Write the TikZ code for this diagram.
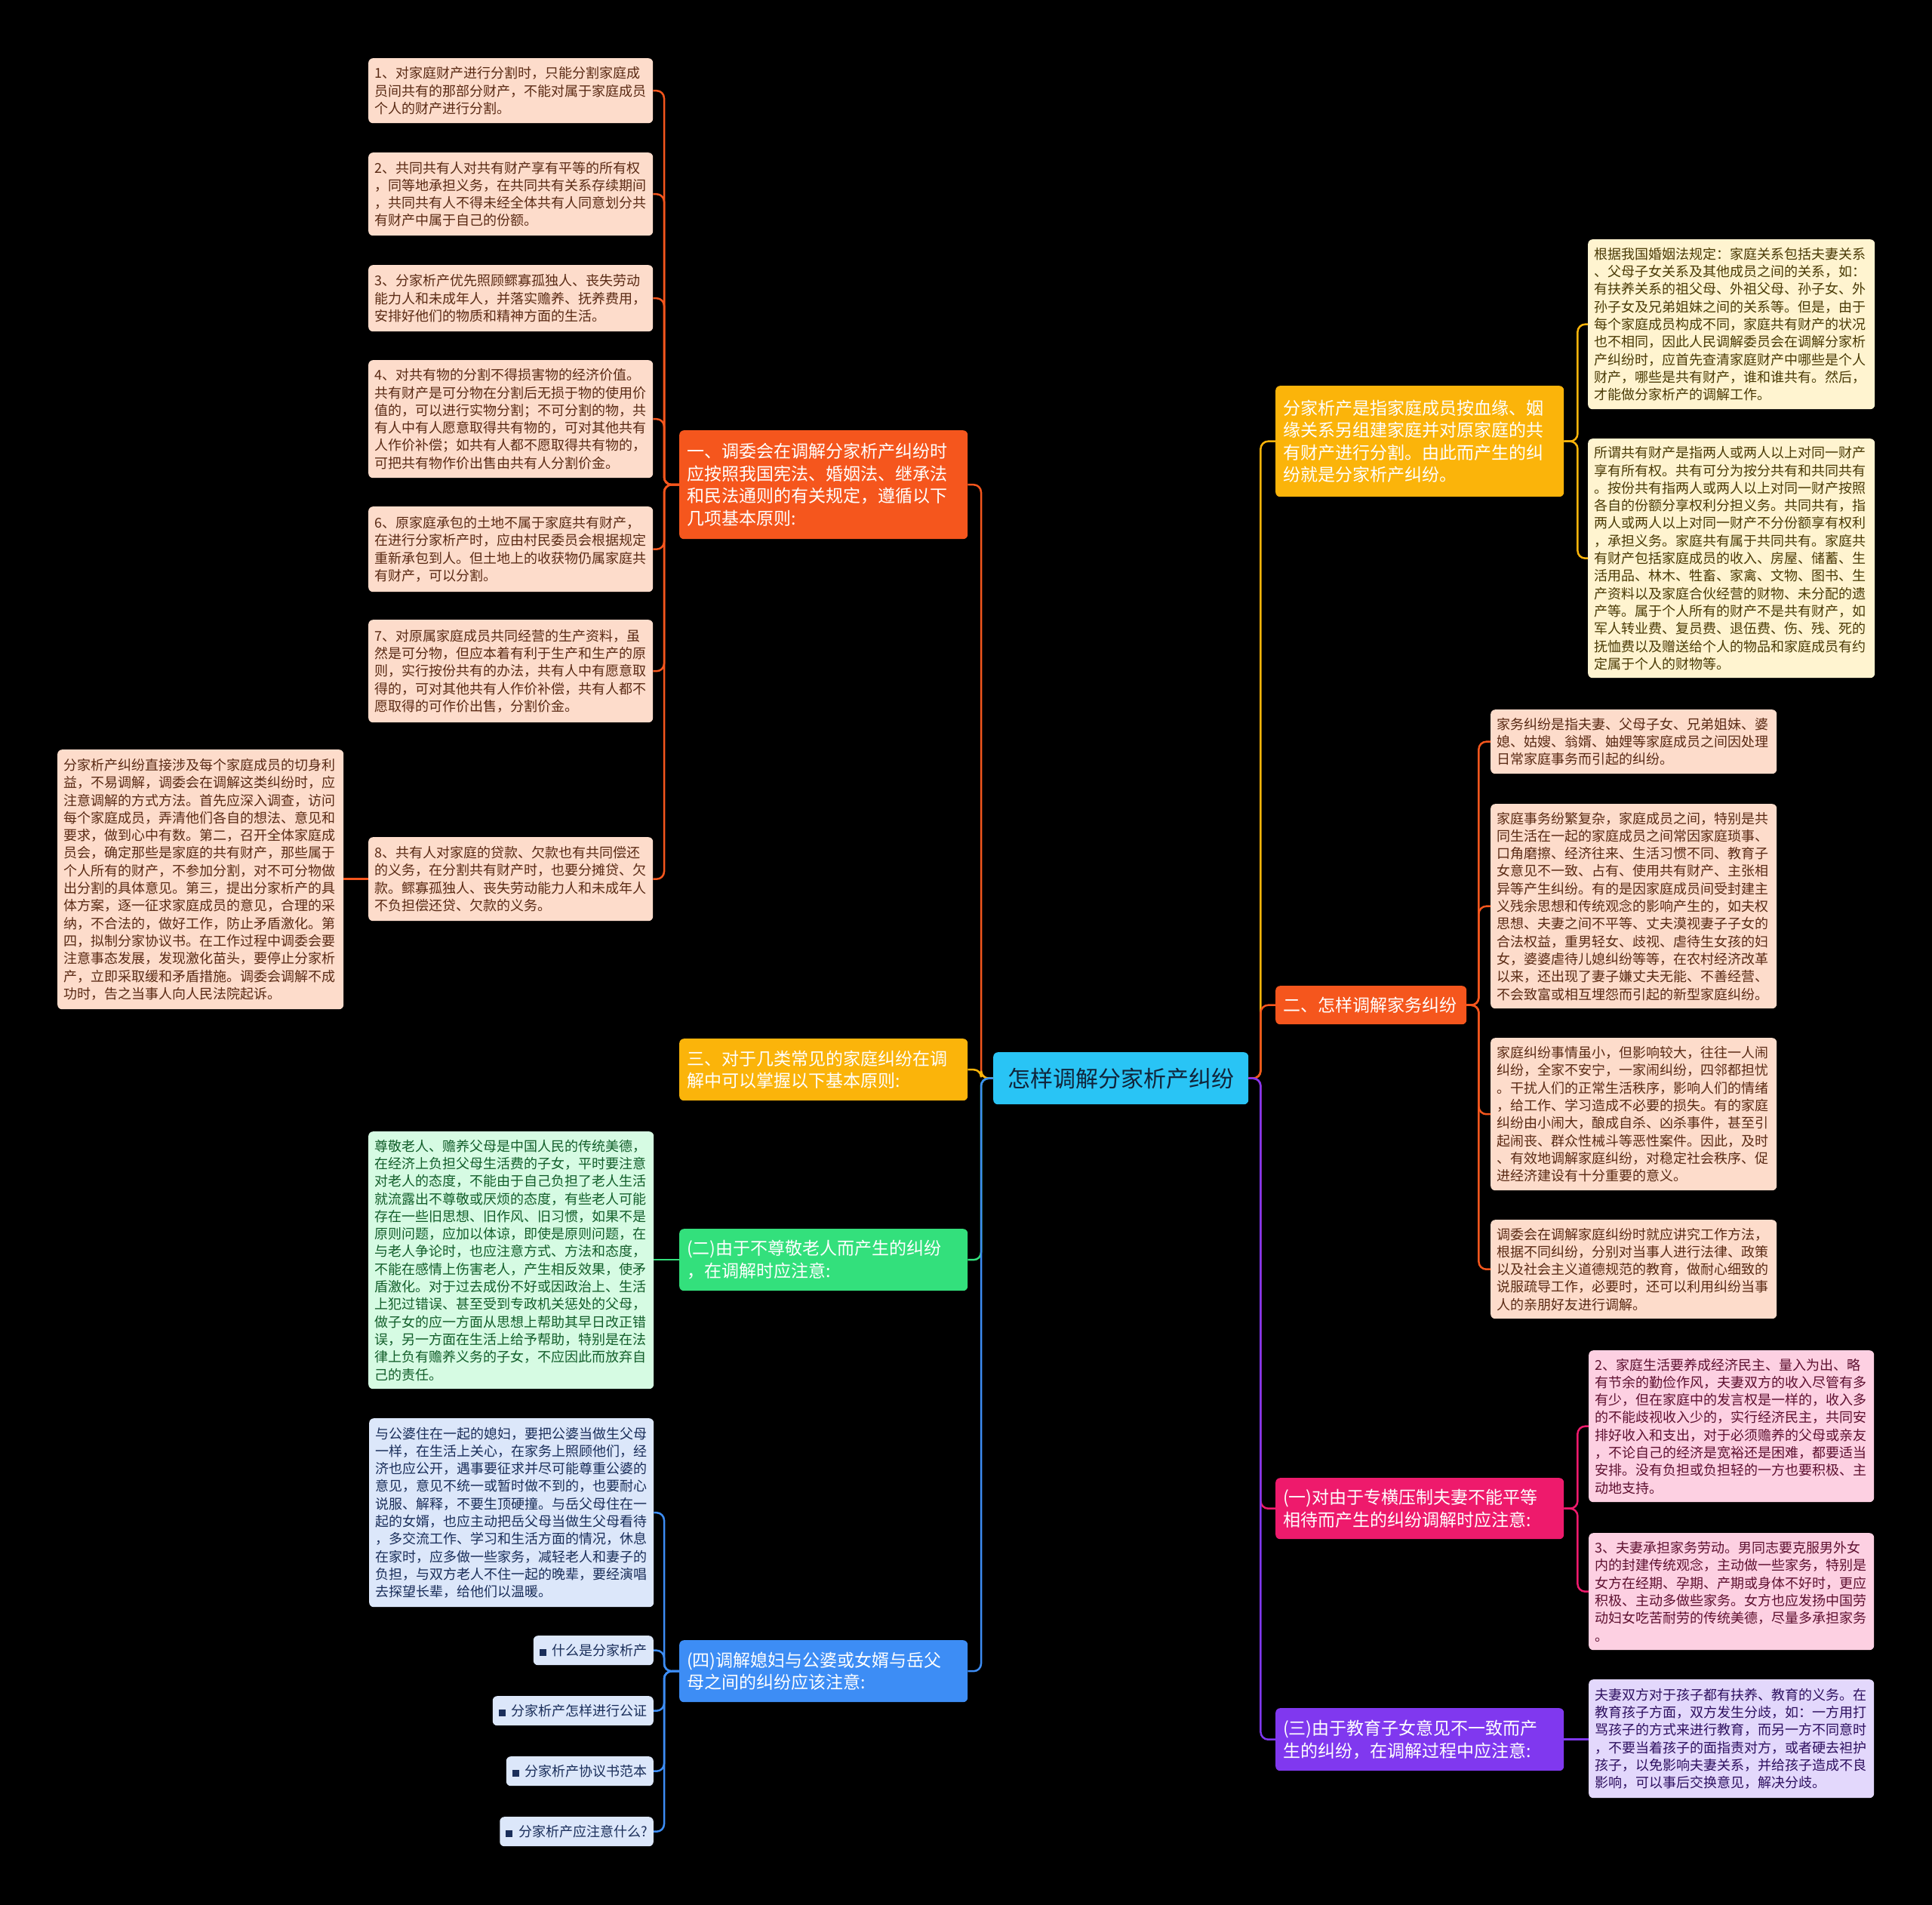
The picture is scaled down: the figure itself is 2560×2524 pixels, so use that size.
\documentclass[tikz,border=0pt]{standalone}
\usepackage{fontspec}
\setmainfont{Noto Sans CJK SC}
\definecolor{cOrange}{HTML}{F5561D}
\definecolor{cAmber}{HTML}{FBB40A}
\definecolor{cGreen}{HTML}{33E07C}
\definecolor{cBlue}{HTML}{3D8DF5}
\definecolor{cCyan}{HTML}{29C4F5}
\definecolor{cPink}{HTML}{EE1A6C}
\definecolor{cPurple}{HTML}{8038EF}
\definecolor{fPeach}{HTML}{FDDCCB}
\definecolor{tPeach}{HTML}{5A2A14}
\definecolor{fGreen}{HTML}{D6FBE3}
\definecolor{tGreen}{HTML}{125E2A}
\definecolor{fBlue}{HTML}{DCE7FA}
\definecolor{tBlue}{HTML}{1A2E5A}
\definecolor{fCream}{HTML}{FFF4D0}
\definecolor{tCream}{HTML}{4A3A05}
\definecolor{fPink}{HTML}{FDD0E2}
\definecolor{tPink}{HTML}{5E1030}
\definecolor{fPurple}{HTML}{E3D8FC}
\definecolor{tPurple}{HTML}{2E1060}
\definecolor{tCenter}{HTML}{10243A}
\tikzset{
  leafbox/.style={rectangle, rounded corners=6pt, anchor=north west, align=left,
    inner xsep=8pt, inner ysep=0pt, text width=361pt, font=\fontsize{18}{23.3}\selectfont},
  lpeach/.style={leafbox, fill=fPeach, text=tPeach},
  lgreen/.style={leafbox, fill=fGreen, text=tGreen},
  lblue/.style={leafbox, fill=fBlue, text=tBlue},
  lcream/.style={leafbox, fill=fCream, text=tCream},
  lpink/.style={leafbox, fill=fPink, text=tPink},
  lpurple/.style={leafbox, fill=fPurple, text=tPurple},
  linkbox/.style={rectangle, rounded corners=6pt, anchor=north east, inner xsep=8pt,
    inner ysep=0pt, minimum height=39pt, fill=fBlue, text=tBlue, font=\fontsize{18}{23.3}\selectfont},
  mainbox/.style={rectangle, rounded corners=6pt, anchor=north west, align=left,
    inner xsep=10pt, inner ysep=0pt, text width=362pt, text=white, font=\fontsize{23}{29.5}\selectfont},
  conn/.style={line width=2.5pt, rounded corners=10pt},
}
\newcommand{\bul}{{\color{tBlue}\rule{9pt}{9pt}}\hspace{8pt}}
\begin{document}
\begin{tikzpicture}[x=1pt,y=-1pt]
\fill[black] (0,0) rectangle (2560,2524);
\useasboundingbox (0,0) rectangle (2560,2524);

% central
\node[rectangle, rounded corners=6pt, anchor=north west, fill=cCyan, text=tCenter,
  minimum width=338pt, minimum height=69pt, inner sep=0pt, font=\fontsize{30}{36}\selectfont]
  (c) at (1316,1394) {怎样调解分家析产纠纷};

% left main nodes
\node[mainbox, fill=cOrange, minimum height=144pt] (m1) at (900,570)
 {一、调委会在调解分家析产纠纷时\\应按照我国宪法、婚姻法、继承法\\和民法通则的有关规定，遵循以下\\几项基本原则:};
\node[mainbox, fill=cAmber, minimum height=82pt] (m3) at (900,1376)
 {三、对于几类常见的家庭纠纷在调\\解中可以掌握以下基本原则:};
\node[mainbox, fill=cGreen, minimum height=82pt] (m2) at (900,1628)
 {(二)由于不尊敬老人而产生的纠纷\\，在调解时应注意:};
\node[mainbox, fill=cBlue, minimum height=82pt] (m4) at (900,2173)
 {(四)调解媳妇与公婆或女婿与岳父\\母之间的纠纷应该注意:};

% right main nodes
\node[mainbox, fill=cAmber, minimum height=147pt] (r1) at (1690,511)
 {分家析产是指家庭成员按血缘、姻\\缘关系另组建家庭并对原家庭的共\\有财产进行分割。由此而产生的纠\\纷就是分家析产纠纷。};
\node[mainbox, fill=cOrange, text width=233pt, minimum height=51pt] (r2) at (1690,1306)
 {二、怎样调解家务纠纷};
\node[mainbox, fill=cPink, minimum height=81pt] (r3) at (1690,1958)
 {(一)对由于专横压制夫妻不能平等\\相待而产生的纠纷调解时应注意:};
\node[mainbox, fill=cPurple, minimum height=83pt] (r4) at (1690,2263)
 {(三)由于教育子女意见不一致而产\\生的纠纷，在调解过程中应注意:};

% left leaves of m1
\node[lpeach, minimum height=86pt] (l1) at (488,77)
 {1、对家庭财产进行分割时，只能分割家庭成\\员间共有的那部分财产，不能对属于家庭成员\\个人的财产进行分割。};
\node[lpeach, minimum height=110pt] (l2) at (488,202)
 {2、共同共有人对共有财产享有平等的所有权\\，同等地承担义务，在共同共有关系存续期间\\，共同共有人不得未经全体共有人同意划分共\\有财产中属于自己的份额。};
\node[lpeach, minimum height=88pt] (l3) at (488,351)
 {3、分家析产优先照顾鳏寡孤独人、丧失劳动\\能力人和未成年人，并落实赡养、抚养费用，\\安排好他们的物质和精神方面的生活。};
\node[lpeach, minimum height=156pt] (l4) at (488,477)
 {4、对共有物的分割不得损害物的经济价值。\\共有财产是可分物在分割后无损于物的使用价\\值的，可以进行实物分割；不可分割的物，共\\有人中有人愿意取得共有物的，可对其他共有\\人作价补偿；如共有人都不愿取得共有物的，\\可把共有物作价出售由共有人分割价金。};
\node[lpeach, minimum height=113pt] (l6) at (488,671)
 {6、原家庭承包的土地不属于家庭共有财产，\\在进行分家析产时，应由村民委员会根据规定\\重新承包到人。但土地上的收获物仍属家庭共\\有财产，可以分割。};
\node[lpeach, minimum height=136pt] (l7) at (488,821)
 {7、对原属家庭成员共同经营的生产资料，虽\\然是可分物，但应本着有利于生产和生产的原\\则，实行按份共有的办法，共有人中有愿意取\\得的，可对其他共有人作价补偿，共有人都不\\愿取得的可作价出售，分割价金。};
\node[lpeach, minimum height=111pt] (l8) at (488,1109)
 {8、共有人对家庭的贷款、欠款也有共同偿还\\的义务，在分割共有财产时，也要分摊贷、欠\\款。鳏寡孤独人、丧失劳动能力人和未成年人\\不负担偿还贷、欠款的义务。};
\node[lpeach, text width=363pt, minimum height=344pt] (fl) at (76,993)
 {分家析产纠纷直接涉及每个家庭成员的切身利\\益，不易调解，调委会在调解这类纠纷时，应\\注意调解的方式方法。首先应深入调查，访问\\每个家庭成员，弄清他们各自的想法、意见和\\要求，做到心中有数。第二，召开全体家庭成\\员会，确定那些是家庭的共有财产，那些属于\\个人所有的财产，不参加分割，对不可分物做\\出分割的具体意见。第三，提出分家析产的具\\体方案，逐一征求家庭成员的意见，合理的采\\纳，不合法的，做好工作，防止矛盾激化。第\\四，拟制分家协议书。在工作过程中调委会要\\注意事态发展，发现激化苗头，要停止分家析\\产，立即采取缓和矛盾措施。调委会调解不成\\功时，告之当事人向人民法院起诉。};

% green leaf
\node[lgreen, text width=362pt, minimum height=341pt] (gl) at (488,1499)
 {尊敬老人、赡养父母是中国人民的传统美德，\\在经济上负担父母生活费的子女，平时要注意\\对老人的态度，不能由于自己负担了老人生活\\就流露出不尊敬或厌烦的态度，有些老人可能\\存在一些旧思想、旧作风、旧习惯，如果不是\\原则问题，应加以体谅，即使是原则问题，在\\与老人争论时，也应注意方式、方法和态度，\\不能在感情上伤害老人，产生相反效果，使矛\\盾激化。对于过去成份不好或因政治上、生活\\上犯过错误、甚至受到专政机关惩处的父母，\\做子女的应一方面从思想上帮助其早日改正错\\误，另一方面在生活上给予帮助，特别是在法\\律上负有赡养义务的子女，不应因此而放弃自\\己的责任。};

% blue leaves
\node[lblue, minimum height=250pt] (bl) at (489,1879)
 {与公婆住在一起的媳妇，要把公婆当做生父母\\一样，在生活上关心，在家务上照顾他们，经\\济也应公开，遇事要征求并尽可能尊重公婆的\\意见，意见不统一或暂时做不到的，也要耐心\\说服、解释，不要生顶硬撞。与岳父母住在一\\起的女婿，也应主动把岳父母当做生父母看待\\，多交流工作、学习和生活方面的情况，休息\\在家时，应多做一些家务，减轻老人和妻子的\\负担，与双方老人不住一起的晚辈，要经演唱\\去探望长辈，给他们以温暖。};
\node[linkbox] (k1) at (866,2167) {\bul 什么是分家析产};
\node[linkbox] (k2) at (866,2247) {\bul 分家析产怎样进行公证};
\node[linkbox] (k3) at (866,2327) {\bul 分家析产协议书范本};
\node[linkbox] (k4) at (866,2407) {\bul 分家析产应注意什么?};

% right leaves
\node[lcream, text width=364pt, minimum height=225pt] (t1) at (2104,317)
 {根据我国婚姻法规定：家庭关系包括夫妻关系\\、父母子女关系及其他成员之间的关系，如：\\有扶养关系的祖父母、外祖父母、孙子女、外\\孙子女及兄弟姐妹之间的关系等。但是，由于\\每个家庭成员构成不同，家庭共有财产的状况\\也不相同，因此人民调解委员会在调解分家析\\产纠纷时，应首先查清家庭财产中哪些是个人\\财产，哪些是共有财产，谁和谁共有。然后，\\才能做分家析产的调解工作。};
\node[lcream, text width=364pt, minimum height=317pt] (t2) at (2104,581)
 {所谓共有财产是指两人或两人以上对同一财产\\享有所有权。共有可分为按分共有和共同共有\\。按份共有指两人或两人以上对同一财产按照\\各自的份额分享权利分担义务。共同共有，指\\两人或两人以上对同一财产不分份额享有权利\\，承担义务。家庭共有属于共同共有。家庭共\\有财产包括家庭成员的收入、房屋、储蓄、生\\活用品、林木、牲畜、家禽、文物、图书、生\\产资料以及家庭合伙经营的财物、未分配的遗\\产等。属于个人所有的财产不是共有财产，如\\军人转业费、复员费、退伍费、伤、残、死的\\抚恤费以及赠送给个人的物品和家庭成员有约\\定属于个人的财物等。};

\node[lpeach, text width=363pt, minimum height=85pt] (s1) at (1975,940)
 {家务纠纷是指夫妻、父母子女、兄弟姐妹、婆\\媳、姑嫂、翁婿、妯娌等家庭成员之间因处理\\日常家庭事务而引起的纠纷。};
\node[lpeach, text width=363pt, minimum height=271pt] (s2) at (1975,1065)
 {家庭事务纷繁复杂，家庭成员之间，特别是共\\同生活在一起的家庭成员之间常因家庭琐事、\\口角磨擦、经济往来、生活习惯不同、教育子\\女意见不一致、占有、使用共有财产、主张相\\异等产生纠纷。有的是因家庭成员间受封建主\\义残余思想和传统观念的影响产生的，如夫权\\思想、夫妻之间不平等、丈夫漠视妻子子女的\\合法权益，重男轻女、歧视、虐待生女孩的妇\\女，婆婆虐待儿媳纠纷等等，在农村经济改革\\以来，还出现了妻子嫌丈夫无能、不善经营、\\不会致富或相互埋怨而引起的新型家庭纠纷。};
\node[lpeach, text width=363pt, minimum height=202pt] (s3) at (1975,1375)
 {家庭纠纷事情虽小，但影响较大，往往一人闹\\纠纷，全家不安宁，一家闹纠纷，四邻都担忧\\。干扰人们的正常生活秩序，影响人们的情绪\\，给工作、学习造成不必要的损失。有的家庭\\纠纷由小闹大，酿成自杀、凶杀事件，甚至引\\起闹丧、群众性械斗等恶性案件。因此，及时\\、有效地调解家庭纠纷，对稳定社会秩序、促\\进经济建设有十分重要的意义。};
\node[lpeach, text width=363pt, minimum height=131pt] (s4) at (1975,1616)
 {调委会在调解家庭纠纷时就应讲究工作方法，\\根据不同纠纷，分别对当事人进行法律、政策\\以及社会主义道德规范的教育，做耐心细致的\\说服疏导工作，必要时，还可以利用纠纷当事\\人的亲朋好友进行调解。};

\node[lpink, text width=362pt, minimum height=201pt] (p2) at (2105,1789)
 {2、家庭生活要养成经济民主、量入为出、略\\有节余的勤俭作风，夫妻双方的收入尽管有多\\有少，但在家庭中的发言权是一样的，收入多\\的不能歧视收入少的，实行经济民主，共同安\\排好收入和支出，对于必须赡养的父母或亲友\\，不论自己的经济是宽裕还是困难，都要适当\\安排。没有负担或负担轻的一方也要积极、主\\动地支持。};
\node[lpink, text width=362pt, minimum height=155pt] (p3) at (2105,2031)
 {3、夫妻承担家务劳动。男同志要克服男外女\\内的封建传统观念，主动做一些家务，特别是\\女方在经期、孕期、产期或身体不好时，更应\\积极、主动多做些家务。女方也应发扬中国劳\\动妇女吃苦耐劳的传统美德，尽量多承担家务\\。};
\node[lpurple, text width=362pt, minimum height=157pt] (pu) at (2105,2225)
 {夫妻双方对于孩子都有扶养、教育的义务。在\\教育孩子方面，双方发生分歧，如：一方用打\\骂孩子的方式来进行教育，而另一方不同意时\\，不要当着孩子的面指责对方，或者硬去袒护\\孩子，以免影响夫妻关系，并给孩子造成不良\\影响，可以事后交换意见，解决分歧。};

% connectors: center to main
\draw[conn, cOrange] (c.west) -- ++(-16,0) |- (m1.east);
\draw[conn, cAmber] (c.west) -- ++(-16,0) |- (m3.east);
\draw[conn, cGreen] (c.west) -- ++(-16,0) |- (m2.east);
\draw[conn, cBlue] (c.west) -- ++(-16,0) |- (m4.east);
\draw[conn, cAmber] (c.east) -- ++(16,0) |- (r1.west);
\draw[conn, cOrange] (c.east) -- ++(16,0) |- (r2.west);
\draw[conn, cPink] (c.east) -- ++(16,0) |- (r3.west);
\draw[conn, cPurple] (c.east) -- ++(16,0) |- (r4.west);

% m1 leaves
\foreach \n in {l1,l2,l3,l4,l6,l7,l8}
  \draw[conn, cOrange] (m1.west) -- ++(-20,0) |- (\n.east);
\draw[conn, cOrange] (l8.west) -- (l8.west -| fl.east);
\draw[conn, cGreen] (m2.west) -- (m2.west -| gl.east);
\foreach \n in {bl,k1,k2,k3,k4}
  \draw[conn, cBlue] (m4.west) -- ++(-20,0) |- (\n.east);

% right leaves
\foreach \n in {t1,t2}
  \draw[conn, cAmber] (r1.east) -- ++(18,0) |- (\n.west);
\foreach \n in {s1,s2,s3,s4}
  \draw[conn, cOrange] (r2.east) -- ++(16,0) |- (\n.west);
\foreach \n in {p2,p3}
  \draw[conn, cPink] (r3.east) -- ++(18,0) |- (\n.west);
\draw[conn, cPurple] (r4.east) -- (r4.east -| pu.west);
\end{tikzpicture}
\end{document}
